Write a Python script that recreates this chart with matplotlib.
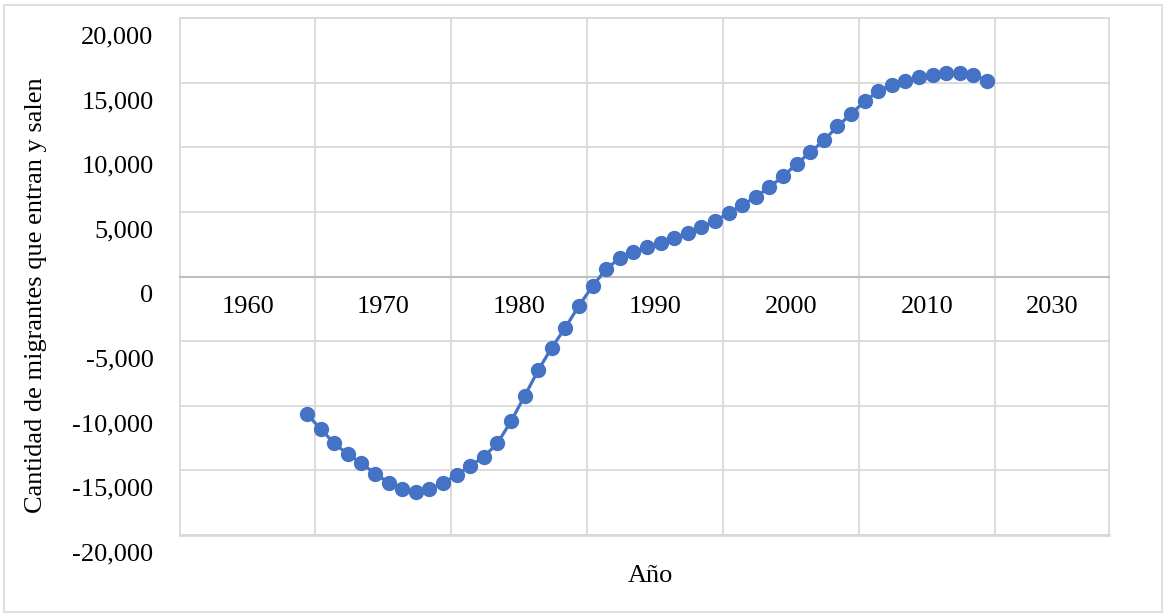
import matplotlib
matplotlib.use('Agg')
import matplotlib.pyplot as plt
from matplotlib.transforms import ScaledTranslation
from matplotlib.patches import Rectangle

plt.rcParams['font.family'] = ['Liberation Serif', 'DejaVu Serif']

# datos (un punto por año)
years = list(range(1964, 2015))
migrants = [-10650, -11800, -12900, -13750, -14450, -15250, -15950, -16450, -16650, -16450,
            -15980, -15350, -14650, -13950, -12900, -11200, -9250, -7250, -5500, -3950,
            -2250, -750, 600, 1400, 1900, 2280, 2620, 2950, 3370, 3830,
            4320, 4900, 5540, 6140, 6920, 7740, 8720, 9600, 10530, 11610,
            12570, 13550, 14330, 14850, 15160, 15410, 15570, 15750, 15750, 15620,
            15160]

x_labels = ['1960', '1970', '1980', '1990', '2000', '2010', '2030']
y_ticks = [20000, 15000, 10000, 5000, 0, -5000, -10000, -15000, -20000]
y_labels = ['20,000', '15,000', '10,000', '5,000', '0', '-5,000', '-10,000', '-15,000', '-20,000']

blue = '#4472C4'
grid_c = '#d9d9d9'
W, H = 1167, 616

fig = plt.figure(figsize=(W / 100, H / 100), dpi=100)
fig.patches.append(Rectangle((4 / W, 4 / H), 1 - 9 / W, 1 - 9 / H, transform=fig.transFigure,
                             fill=False, edgecolor=grid_c, lw=1.2))
ax = fig.add_axes([180 / W, 1 - 535 / H, (1109 - 180) / W, (535 - 18) / H])

x0, x1 = 1954.66, 2022.97
grid_x = [1964.6 + 10 * k for k in range(6)]
edges = [x0] + grid_x + [x1]
label_x = [(a + b) / 2 for a, b in zip(edges[:-1], edges[1:])]

ax.plot(years, migrants, color=blue, lw=2.3, marker='o', ms=10, zorder=3)

ax.set_xlim(x0, x1)
ax.set_ylim(-20000, 20000)

ax.set_xticks(grid_x, minor=True)
ax.set_xticks(label_x, x_labels)
ax.set_yticks(y_ticks, y_labels)
ax.grid(which='minor', axis='x', color=grid_c, lw=1.3)
ax.grid(which='major', axis='y', color=grid_c, lw=1.3)
ax.grid(which='major', axis='x', visible=False)
ax.axhline(-20000, color=grid_c, lw=2, clip_on=False, zorder=1)

for s in ['left', 'top', 'right']:
    ax.spines[s].set_color(grid_c)
    ax.spines[s].set_linewidth(1.3)
ax.spines['bottom'].set_position(('data', 0))
ax.spines['bottom'].set_color('#bfbfbf')
ax.spines['bottom'].set_linewidth(1.5)

ax.tick_params(axis='both', which='both', length=0, labelsize=19)
ax.tick_params(axis='x', pad=14)
ax.tick_params(axis='y', pad=19)

off = ScaledTranslation(0, -17 / 100, fig.dpi_scale_trans)
for t in ax.yaxis.get_major_ticks():
    t.label1.set_transform(t.label1.get_transform() + off)

ax.set_ylabel('Cantidad de migrantes que entran y salen', fontsize=19)
ax.yaxis.set_label_coords((47 - 180) / (1109 - 180), (535 - 295) / (535 - 18))
fig.text(650 / W, 1 - 576 / H, 'Año', fontsize=19, ha='center', va='center')

fig.savefig('out.png', dpi=100)
